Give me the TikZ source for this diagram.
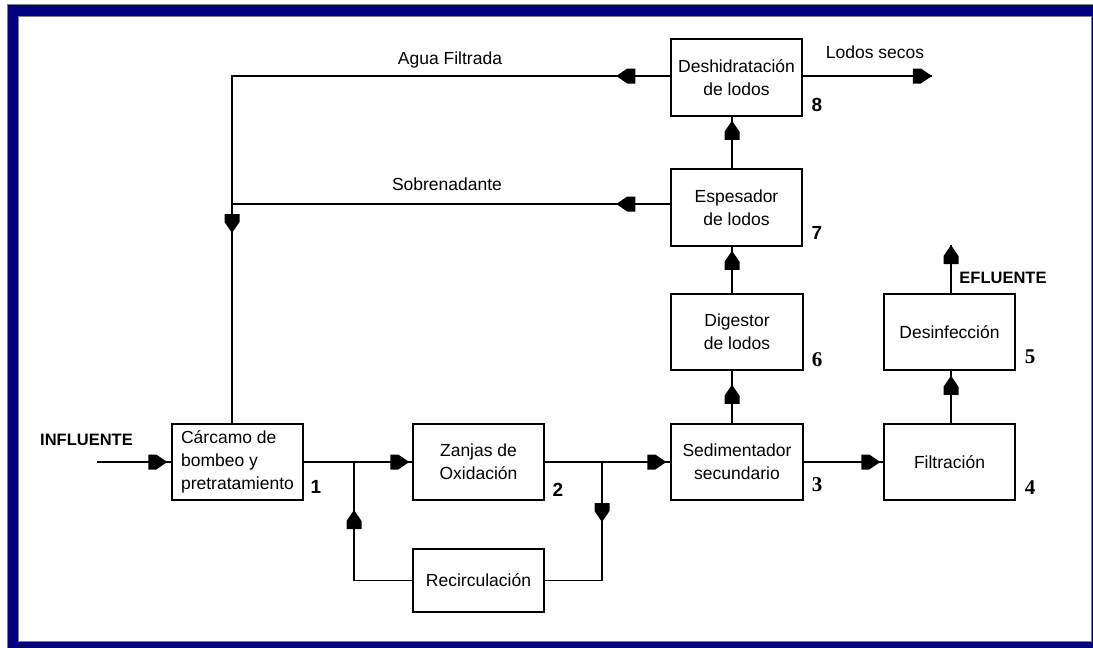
\documentclass[tikz,border=0pt]{standalone}
\usepackage{fontspec}
\setmainfont{Liberation Sans}
\newfontfamily\numserif{Liberation Serif}
\usetikzlibrary{decorations.markings}
\definecolor{navyframe}{RGB}{0,0,128}
\newcommand\boxfont{\fontsize{17.5}{23}\selectfont}
\tikzset{
  flow/.style={postaction={decorate,decoration={markings,
     mark=at position #1 with {\fill[black] (0pt,0pt) -- (-11pt,7.5pt) -- (-19pt,7.5pt) -- (-19pt,-7.5pt) -- (-11pt,-7.5pt) -- cycle;}}}},
  wire/.style={line width=1.4pt,black},
  box/.style={draw=black,line width=1.5pt,minimum width=131pt,minimum height=76pt,inner sep=0pt,align=center,font=\boxfont},
  lbl/.style={font=\boxfont,inner sep=0pt},
  numsans/.style={font=\bfseries\fontsize{19}{19}\selectfont,inner sep=0pt},
  numser/.style={font=\numserif\bfseries\fontsize{21}{21}\selectfont,inner sep=0pt},
  heavy/.style={font=\bfseries\fontsize{16.5}{16.5}\selectfont,inner sep=0pt}
}
\begin{document}
\begin{tikzpicture}[x=1pt,y=-1pt]
\useasboundingbox (0,0) rectangle (1093,648);
% frame
\fill[navyframe] (7,4) rectangle (1095,650);
\draw[gray,line width=1pt] (7,4) rectangle (1095,650);
\fill[white] (18,16) rectangle (1091,641);
\draw[gray,line width=1pt] (18,16) rectangle (1091,641);

% boxes
\node[box,align=left] (b1) at (237.5,462) {Cárcamo de\\bombeo y\\pretratamiento};
\node[box] (zan) at (478.5,462) {Zanjas de\\Oxidación};
\node[box,minimum height=63pt] (rec) at (478.5,580.5) {Recirculación};
\node[box,minimum width=132pt] (sed) at (737,462) {Sedimentador\\secundario};
\node[box] (fil) at (949.5,462) {Filtración};
\node[box,minimum width=132pt] (dig) at (737,332) {Digestor\\de lodos};
\node[box] (des) at (949.5,332) {Desinfección};
\node[box,minimum height=77pt] (esp) at (736.5,207.5) {Espesador\\de lodos};
\node[box,minimum height=77pt] (desh) at (736.5,77.5) {Deshidratación\\de lodos};

% numbers
\node[numsans] (n1) at (316,487) {1};
\node[numsans] (n2) at (558,490) {2};
\node[numser] (n3) at (817,485) {3};
\node[numser] (n4) at (1030,488) {4};
\node[numser] (n5) at (1030,357) {5};
\node[numser] (n6) at (817,360) {6};
\node[numsans] (n7) at (817,233) {7};
\node[numsans] (n8) at (817,105) {8};

% coordinates
\coordinate (infl) at (97,462);
\coordinate (j1) at (354,462);
\coordinate (j2) at (602,462);
\coordinate (c1) at (232,76);
\coordinate (c2) at (232,204);
\coordinate (efl) at (951,245);
\coordinate (secos) at (932,76);

% labels
\node[heavy] (tinf) at (86.5,440) {INFLUENTE};
\node[heavy] (tefl) at (1003,278) {EFLUENTE};
\node[lbl] (tagua) at (450,60) {Agua Filtrada};
\node[lbl] (tsob) at (447,184) {Sobrenadante};
\node[lbl] (tsec) at (875,52) {Lodos secos};

% connectors
\draw[wire,flow=-4pt] (infl) -- (b1.west);
\draw[wire,flow=-3pt] (b1.east) -- (zan.west);
\draw[wire,flow=-4pt] (zan.east) -- (sed.west);
\draw[wire,flow=60pt] (j2) -- (j2 |- rec.east) -- (rec.east);
\draw[wire,flow=-48pt] (rec.west) -- (j1 |- rec.west) -- (j1);
\draw[wire,flow=-3pt] (sed.east) -- (fil.west);
\draw[wire,flow=-5pt] ([xshift=1.5pt]fil.north) -- ([xshift=1.5pt]des.south);
\draw[wire,flow=-0.1pt] ([xshift=1.5pt]des.north) -- ([xshift=1.5pt]des.north |- efl);
\draw[wire,flow=-14pt] ([xshift=-5pt]sed.north) -- ([xshift=-5pt]dig.south);
\draw[wire,flow=-4pt] ([xshift=-5pt]dig.north) -- ([xshift=-4.5pt]esp.south);
\draw[wire,flow=-4pt] ([xshift=-4.5pt]esp.north) -- ([xshift=-4.5pt]desh.south);
\draw[wire,flow=-0.1pt] (desh.east |- secos) -- (secos);
\draw[wire,flow=54pt] (desh.west |- c1) -- (c1) -- (c2);
\draw[wire,flow=54pt] (esp.west |- c2) -- (c2);
\draw[wire,flow=29pt] (c2) -- (c2 |- b1.north);
\end{tikzpicture}
\end{document}
